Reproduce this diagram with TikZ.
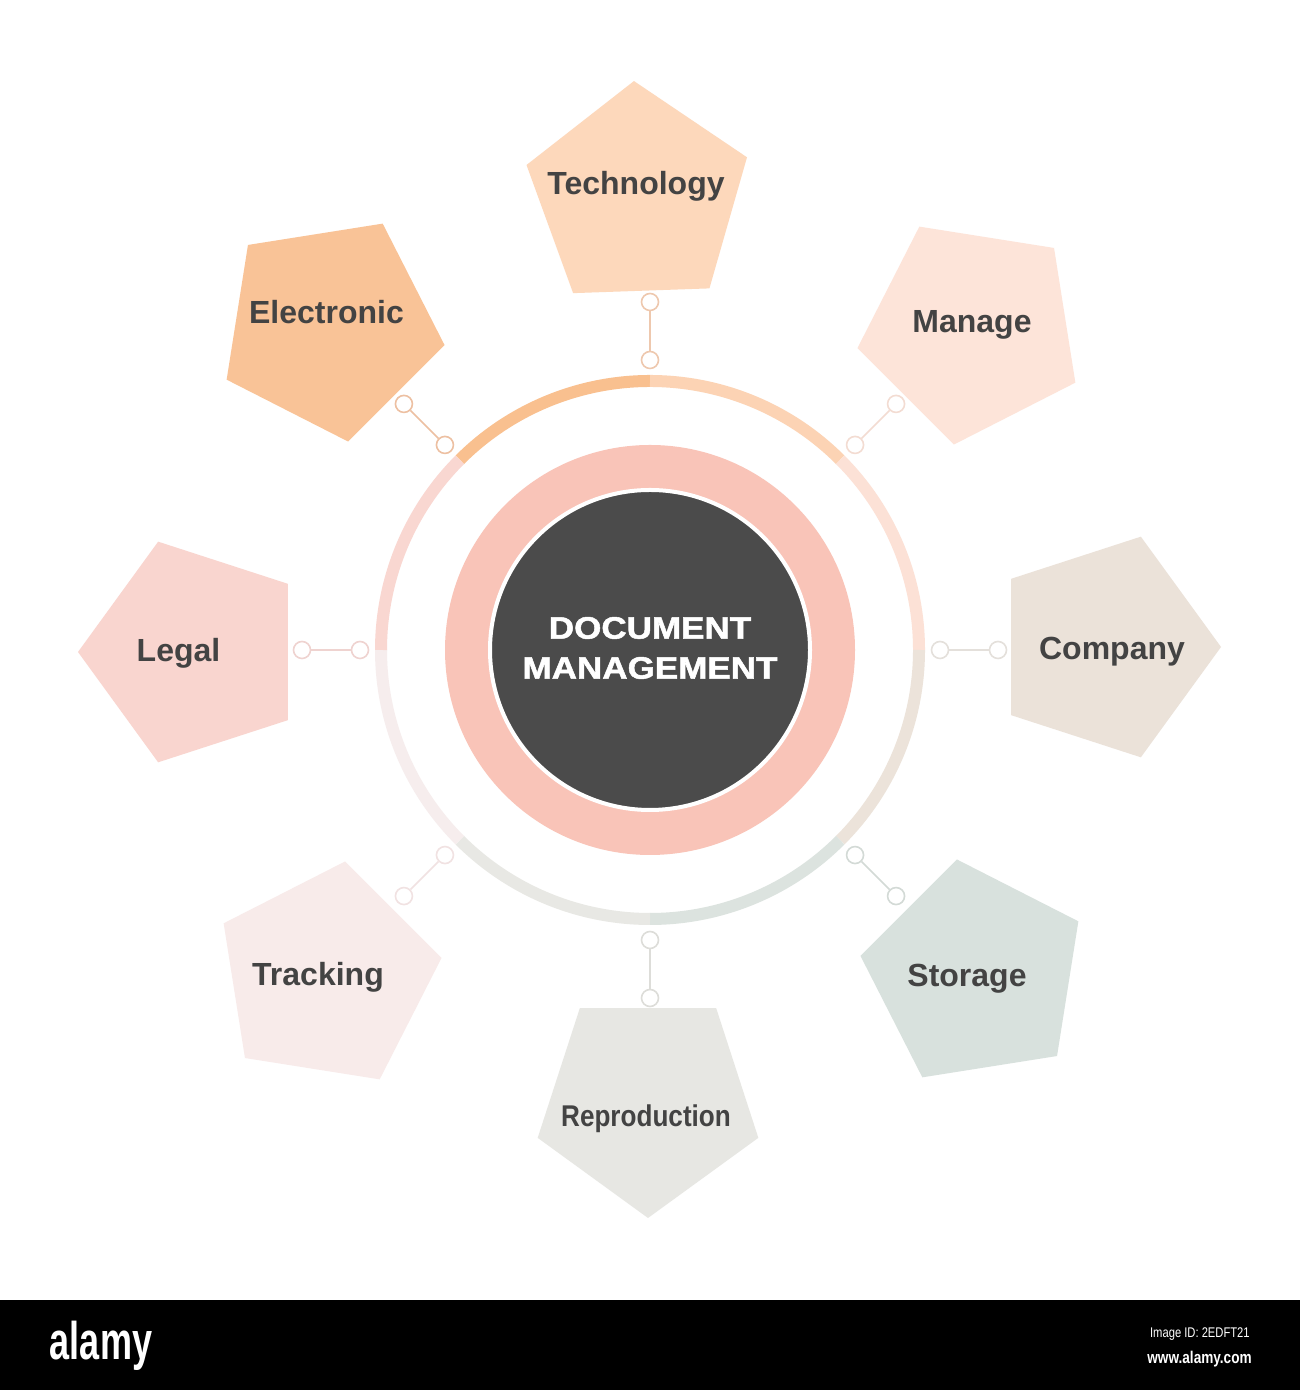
\documentclass[tikz,border=0pt]{standalone}
\usepackage{fontspec}
\setmainfont{Liberation Sans}
\newfontfamily\heavyfont{Liberation Sans Bold}[FakeBold=1.5]
\usetikzlibrary{shapes.geometric,calc}
\definecolor{cTech}{HTML}{FDD8BB}
\definecolor{cElec}{HTML}{F9C397}
\definecolor{cMan}{HTML}{FDE4D9}
\definecolor{cComp}{HTML}{EBE2D9}
\definecolor{cStor}{HTML}{D8E1DD}
\definecolor{cRep}{HTML}{E7E7E3}
\definecolor{cTrack}{HTML}{F8EBEA}
\definecolor{cLegal}{HTML}{F9D5CF}
\definecolor{rElec}{HTML}{F9C08F}
\definecolor{rTech}{HTML}{FCD3B4}
\definecolor{rMan}{HTML}{FCE1D6}
\definecolor{rComp}{HTML}{ECE3DA}
\definecolor{rStor}{HTML}{DCE3DF}
\definecolor{rRep}{HTML}{E8E8E4}
\definecolor{rTrack}{HTML}{F6EDED}
\definecolor{rLegal}{HTML}{F9D7D1}
\definecolor{kTech}{HTML}{EEC8AE}
\definecolor{kElec}{HTML}{EDC0A2}
\definecolor{kMan}{HTML}{F3DCD2}
\definecolor{kComp}{HTML}{E4E0DB}
\definecolor{kStor}{HTML}{D3DAD6}
\definecolor{kRep}{HTML}{DDDDD9}
\definecolor{kTrack}{HTML}{F1E2E2}
\definecolor{kLegal}{HTML}{EFD3D0}
\definecolor{salmon}{HTML}{F9C4B8}
\definecolor{darkcore}{HTML}{4B4B4B}
\definecolor{labelgray}{HTML}{434343}
\begin{document}
\begin{tikzpicture}[x=0.5pt,y=0.5pt,
  penta/.style={regular polygon, regular polygon sides=5, minimum size=116pt, inner sep=0pt, outer sep=0pt, draw=none},
  dotnode/.style={circle, minimum size=8.5pt, inner sep=0pt, fill=white, line width=0.8pt},
  link/.style={line width=0.8pt},
  ringseg/.style={line width=6pt},
  lbl/.style={text=labelgray, font=\fontsize{16pt}{19pt}\selectfont\bfseries, inner sep=0pt, anchor=base}]
\useasboundingbox (0,0) rectangle (1300,1390);
\fill[white] (0,0) rectangle (1300,1390);
\coordinate (C) at (650,740);
% pentagons
\foreach \n/\px/\py/\rot/\fc in {Tech/638/197/2/cTech, Elec/330/327/45/cElec, Man/972/330/-45/cMan, Comp/1105/647/-90/cComp, Stor/975/974/-135/cStor, Rep/648/1102/180/cRep, Track/327/976/135/cTrack, Legal/194/652/90/cLegal}
  \node[penta, fill=\fc, rotate=\rot] (p\n) at (\px,{1390-\py}) {};
% outer ring segments
\foreach \a/\rc in {135/rElec, 90/rTech, 45/rMan, 0/rComp, -45/rStor, -90/rRep, -135/rTrack, 180/rLegal}
  \draw[ringseg, draw=\rc] ($(C)+(\a:269)$) arc[start angle=\a, end angle=\a-45, radius=269];
% connectors
\foreach \n/\a/\kc in {Tech/90/kTech, Elec/135/kElec, Man/45/kMan, Comp/0/kComp, Stor/-45/kStor, Rep/-90/kRep, Track/-135/kTrack, Legal/180/kLegal}{
  \node[dotnode, draw=\kc] (ci\n) at ($(C)+(\a:290)$) {};
  \node[dotnode, draw=\kc] (co\n) at ($(C)+(\a:348)$) {};
  \draw[link, draw=\kc] (ci\n) -- (co\n);
}
% centre
\fill[salmon] (C) circle[radius=205];
\node[circle, fill=darkcore, draw=white, line width=2pt, minimum size=160pt, inner sep=0pt] (core) at (C) {};
\node[align=center, text=white, font=\fontsize{15.5pt}{20pt}\selectfont\heavyfont, xscale=1.13, transform shape, inner sep=0pt] (ctext) at (650,742) {DOCUMENT\\MANAGEMENT};
% labels
\node[lbl] (tTech) at (636,1195) {Technology};
\node[lbl] (tElec) at (326.5,1066) {Electronic};
\node[lbl] (tMan) at (972,1057) {Manage};
\node[lbl] (tComp) at (1112,730) {Company};
\node[lbl] (tStor) at (967,403) {Storage};
\node[lbl, font=\fontsize{15pt}{18pt}\selectfont\bfseries, xscale=0.87, transform shape] (tRep) at (646,263) {Reproduction};
\node[lbl] (tTrack) at (318,404) {Tracking};
\node[lbl] (tLegal) at (178.5,728) {Legal};
% bottom bar
\fill[black] (0,0) rectangle (1300,90);
\node[text=white, font=\fontsize{26.5pt}{30pt}\selectfont\bfseries, xscale=0.68, transform shape, inner sep=0pt, anchor=base] (logo) at (101,30) {alamy};
\node[text=white, font=\fontsize{7pt}{8pt}\selectfont, xscale=0.8, transform shape, inner sep=0pt, anchor=base east] (imgid) at (1250,52) {Image ID: 2EDFT21};
\node[text=white, font=\fontsize{8.5pt}{9pt}\selectfont\bfseries, xscale=0.8, transform shape, inner sep=0pt, anchor=base east] (www) at (1252,26) {www.alamy.com};
\end{tikzpicture}
\end{document}
